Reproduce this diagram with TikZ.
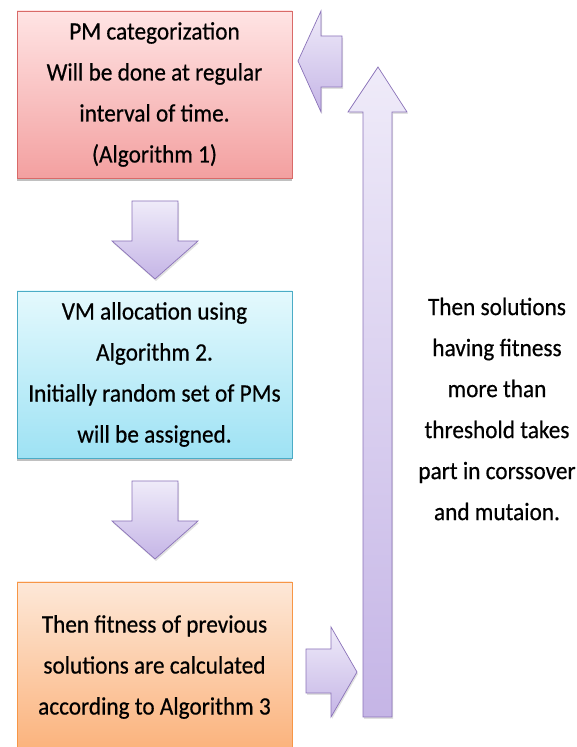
\documentclass[tikz,border=0pt]{standalone}
\usepackage{fontspec}
\setmainfont{Carlito}[FakeStretch=0.93, FakeBold=0.5]
\usetikzlibrary{shadows}
\definecolor{pmtop}{HTML}{FFE4E4}
\definecolor{pmbot}{HTML}{F3A0A0}
\definecolor{pmbdr}{HTML}{D96A68}
\definecolor{vmtop}{HTML}{E4F9FD}
\definecolor{vmbot}{HTML}{9EE2F4}
\definecolor{vmbdr}{HTML}{4BACC6}
\definecolor{fittop}{HTML}{FDE8D8}
\definecolor{fitbot}{HTML}{FBB27B}
\definecolor{fitbdr}{HTML}{F79646}
\definecolor{arrtop}{HTML}{EFEBF9}
\definecolor{arrbot}{HTML}{C5B5E6}
\definecolor{arrbdr}{HTML}{8B73B9}
\tikzset{
    stage/.style={rectangle, align=center, minimum width=275pt,
        minimum height=167pt, line width=0.8pt, inner sep=0pt,
        font=\fontsize{25}{41}\selectfont,
        drop shadow={shadow xshift=0pt, shadow yshift=-3pt,
            opacity=0.35, fill=black!70}},
    pmstage/.style={stage, draw=pmbdr, top color=pmtop, bottom color=pmbot},
    vmstage/.style={stage, draw=vmbdr, top color=vmtop, bottom color=vmbot},
    fitstage/.style={stage, draw=fitbdr, top color=fittop,
        bottom color=fitbot, minimum height=170pt},
    blockarrow/.style={draw=arrbdr, line width=0.7pt, line join=miter,
        top color=arrtop, bottom color=arrbot,
        drop shadow={shadow xshift=1pt, shadow yshift=-2pt,
            opacity=0.2, fill=black!60}},
    note/.style={align=center, font=\fontsize{25}{41}\selectfont},
}

\begin{document}
\begin{tikzpicture}[x=1pt, y=1pt]

\clip (0,0) rectangle (577,747);
\fill[white] (0,0) rectangle (577,747);

% ================================================================
%  STAGES
% ================================================================

\node[pmstage] (pmcat) at (154.5, 652.5)
    {PM categorization\\Will be done at regular\\interval of time.\\(Algorithm 1)};
\node[vmstage] (vmalloc) at (154.5, 372.5)
    {VM allocation using\\Algorithm 2.\\Initially random set of PMs\\will be assigned.};
\node[fitstage] (fitness) at (154.5, 80)
    {Then fitness of previous\\solutions are calculated\\according to Algorithm 3};

\node[note] (crossover) at (497, 338)
    {Then solutions\\having fitness\\more than\\threshold takes\\part in corssover\\and mutaion.};

% ================================================================
%  BLOCK ARROWS
% ================================================================

% pmcat -> vmalloc
\draw[blockarrow] (132,546) -- (178,546) -- (178,506) -- (198,506)
    -- (155,468) -- (112,506) -- (132,506) -- cycle;

% vmalloc -> fitness
\draw[blockarrow] (132,266) -- (178,266) -- (178,226) -- (198,226)
    -- (155,188) -- (112,226) -- (132,226) -- cycle;

% fitness -> loop
\draw[blockarrow] (306,98) -- (331,98) -- (331,120) -- (357,75)
    -- (331,30) -- (331,54) -- (306,54) -- cycle;

% loop upwards
\draw[blockarrow] (363,30) -- (392,30) -- (392,635) -- (407,635)
    -- (378,680) -- (348,635) -- (363,635) -- cycle;

% back into pmcat
\draw[blockarrow] (342,711) -- (321,711) -- (321,736) -- (298,686)
    -- (321,635) -- (321,660) -- (342,660) -- cycle;

\end{tikzpicture}
\end{document}
